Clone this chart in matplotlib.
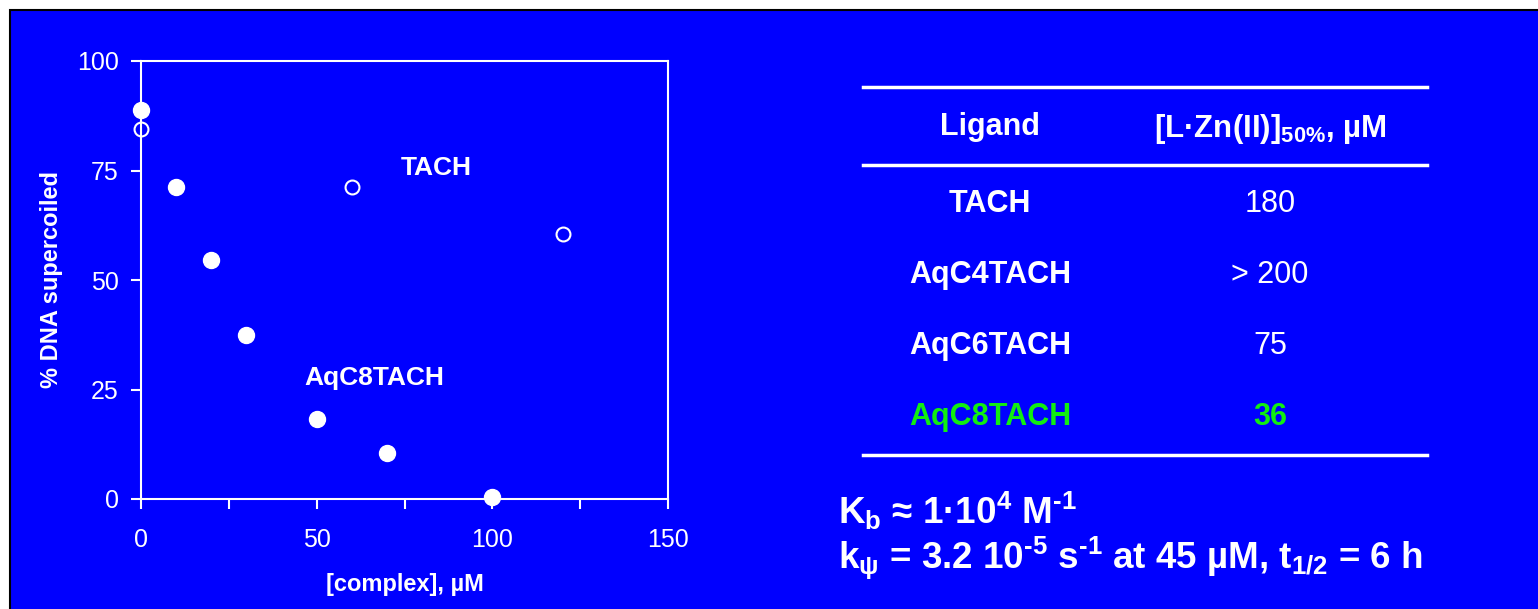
import matplotlib
matplotlib.use("Agg")
import matplotlib.pyplot as plt
from matplotlib.patches import Rectangle

plt.rcParams['font.family'] = ['Liberation Sans', 'DejaVu Sans']
plt.rcParams['mathtext.fontset'] = 'custom'
plt.rcParams['mathtext.rm'] = 'Liberation Sans:bold'
plt.rcParams['mathtext.default'] = 'regular'

BLUE = '#0000ff'
GREEN = '#11ee11'

# AqC8TACH (filled) and TACH (open) data
aqc8_x = [0, 10, 20, 30, 50, 70, 100]
aqc8_y = [88.7, 71.3, 54.5, 37.4, 18.2, 10.4, 0.5]
tach_x = [0, 60, 120]
tach_y = [84.5, 71.3, 60.5]

# table
ligands = ['TACH', 'AqC4TACH', 'AqC6TACH', 'AqC8TACH']
conc50 = ['180', '> 200', '75', '36']
row_colors = ['white', 'white', 'white', GREEN]
row_weights = ['normal', 'normal', 'normal', 'bold']

fig = plt.figure(figsize=(15.38, 6.09), dpi=100, facecolor='white')

# background panel in pixel coordinates
bg = fig.add_axes([0, 0, 1, 1], zorder=-1)
bg.set_xlim(0, 1538)
bg.set_ylim(609, 0)
bg.axis('off')
bg.add_patch(Rectangle((10, 10), 1540, 610, facecolor=BLUE,
                       edgecolor='black', linewidth=1.5))

# scatter plot
ax = fig.add_axes([141 / 1538, 1 - 499 / 609, 527 / 1538, 438 / 609])
ax.set_facecolor('none')
ax.plot(aqc8_x, aqc8_y, 'o', color='white', markersize=11.5, clip_on=False)
ax.plot(tach_x, tach_y, 'o', mfc='none', mec='white', mew=1.5,
        markersize=10, clip_on=False)
ax.set_xlim(0, 150)
ax.set_ylim(0, 100)
ax.set_xticks([0, 50, 100, 150])
ax.set_xticks([25, 75, 125], minor=True)
ax.set_yticks([0, 25, 50, 75, 100])
for s in ax.spines.values():
    s.set_color('white')
    s.set_linewidth(1.5)
ax.tick_params(which='both', colors='white', direction='out', width=1.5,
               length=7, labelsize=18, labelcolor='white')
ax.tick_params(axis='x', pad=14)
ax.tick_params(axis='y', pad=9)
ax.set_xlabel('[complex], µM', color='white', fontsize=17,
              fontweight='bold', labelpad=15)
ax.set_ylabel('% DNA supercoiled', color='white', fontsize=17,
              fontweight='bold', labelpad=10)
ax.text(84, 75.5, 'TACH', color='white', fontsize=19, fontweight='bold',
        ha='center', va='center')
ax.text(66.5, 27.6, 'AqC8TACH', color='white', fontsize=19,
        fontweight='bold', ha='center', va='center')

# table
x0, x1 = 863, 1427
col1, col2 = 990, 1270
for yl in [87, 165, 455]:
    bg.plot([x0, x1], [yl, yl], color='white', linewidth=2.5)
bg.text(col1, 127, 'Ligand', color='white', fontsize=22, fontweight='bold',
        ha='center', va='center')
bg.text(col2, 129, r'$\text{[L·Zn(II)]}_\text{50%}\text{, µM}$',
        color='white', fontsize=22.5, ha='center', va='center')
for i, (lig, val) in enumerate(zip(ligands, conc50)):
    yy = 204 + i * 71
    bg.text(col1, yy, lig, color=row_colors[i], fontsize=22,
            fontweight='bold', ha='center', va='center')
    bg.text(col2, yy, val, color=row_colors[i], fontsize=22,
            fontweight=row_weights[i], ha='center', va='center')

# constants
bg.text(838, 524, r'$\text{K}_\text{b}\text{ ≈ 1·10}^\text{4}\text{ M}^\text{-1}$',
        color='white', fontsize=26.5, ha='left', va='baseline')
bg.text(838, 568,
        r'$\text{k}_\text{ψ}\text{ = 3.2 10}^\text{-5}\text{ s}^\text{-1}'
        r'\text{ at 45 µM, t}_\text{1/2}\text{ = 6 h}$',
        color='white', fontsize=26.5, ha='left', va='baseline')

fig.savefig('out.png', dpi=100, facecolor='white')
